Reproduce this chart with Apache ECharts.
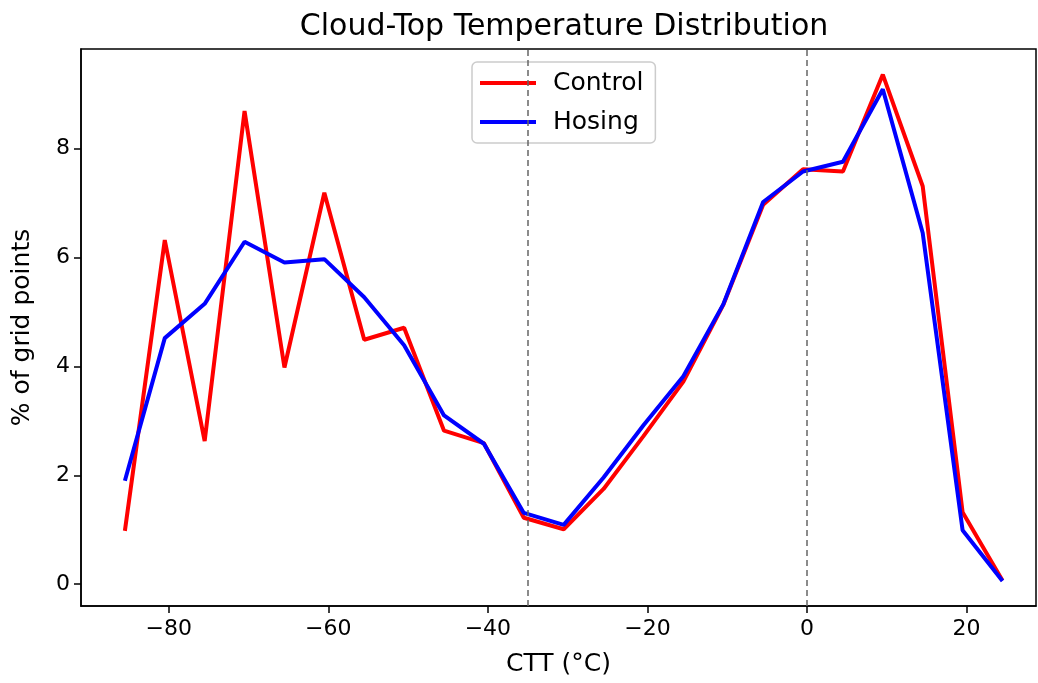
<!DOCTYPE html>
<html>
<head>
<meta charset="utf-8">
<script src="https://cdn.jsdelivr.net/npm/echarts@6/dist/echarts.min.js"></script>
<style>
  html, body { margin: 0; padding: 0; background: #fff; }
  #chart { width: 1038px; height: 683px; }
</style>
</head>
<body>
<div id="chart"></div>
<script>
// bin centres (°C)
const ctt = [-85.5, -80.5, -75.5, -70.5, -65.5, -60.5, -55.5, -50.5, -45.5, -40.5, -35.5, -30.5,
             -25.5, -20.5, -15.5, -10.5, -5.5, -0.5, 4.5, 9.5, 14.5, 19.5, 24.5];
const control = [0.98, 6.32, 2.63, 8.69, 3.98, 7.19, 4.49, 4.71, 2.82, 2.59, 1.22, 1.01,
                 1.75, 2.72, 3.72, 5.13, 6.97, 7.62, 7.58, 9.36, 7.31, 1.32, 0.07];
const hosing = [1.9, 4.52, 5.15, 6.29, 5.91, 5.97, 5.27, 4.39, 3.10, 2.58, 1.31, 1.09,
                1.96, 2.92, 3.82, 5.14, 7.02, 7.58, 7.76, 9.09, 6.45, 0.99, 0.06];
const vlines = [-35, 0];
const xTicks = [-80, -60, -40, -20, 0, 20];
const yTicks = [0, 2, 4, 6, 8];

const font = 'DejaVu Sans';
const chart = echarts.init(document.getElementById('chart'));

const toPairs = ys => ctt.map((x, i) => [x, ys[i]]);

const option = {
  animation: false,
  textStyle: { fontFamily: font },
  title: {
    text: 'Cloud-Top Temperature Distribution',
    left: 559,
    top: 7,
    textAlign: 'center',
    textStyle: { fontFamily: font, fontSize: 30, fontWeight: 'normal', color: '#000' }
  },
  legend: {
    data: ['Control', 'Hosing'],
    orient: 'vertical',
    left: 472,
    top: 62,
    padding: [8, 12, 8, 8],
    icon: 'rect',
    itemWidth: 56,
    itemHeight: 4,
    itemGap: 13,
    borderColor: '#cccccc',
    borderWidth: 1.5,
    borderRadius: 5,
    backgroundColor: 'rgba(255,255,255,0.8)',
    textStyle: { fontFamily: font, fontSize: 25, color: '#000', padding: [0, 0, 0, 12], lineHeight: 26 }
  },
  grid: {
    left: 81, right: 2, top: 49, bottom: 77,
    show: true, borderColor: '#000', borderWidth: 1.5, backgroundColor: 'transparent'
  },
  xAxis: {
    type: 'value',
    min: -91,
    max: 28.7,
    name: 'CTT (°C)',
    nameLocation: 'middle',
    nameGap: 46,
    nameTextStyle: { fontFamily: font, fontSize: 25, color: '#000' },
    axisLine: { show: true, onZero: false, lineStyle: { color: '#000', width: 1.5 } },
    axisTick: { show: true, inside: false, length: 7, lineStyle: { color: '#000', width: 1.5 }, customValues: xTicks },
    axisLabel: { fontFamily: font, fontSize: 22, color: '#000', margin: 12, customValues: xTicks,
                 formatter: v => (v < 0 ? '\u2212' + Math.abs(v) : String(v)) },
    splitLine: { show: false }
  },
  yAxis: {
    type: 'value',
    min: -0.4,
    max: 9.83,
    name: '% of grid points',
    nameLocation: 'middle',
    nameGap: 46,
    nameTextStyle: { fontFamily: font, fontSize: 25, color: '#000' },
    axisLine: { show: true, onZero: false, lineStyle: { color: '#000', width: 1.5 } },
    axisTick: { show: true, inside: false, length: 7, lineStyle: { color: '#000', width: 1.5 }, customValues: yTicks },
    axisLabel: { fontFamily: font, fontSize: 22, color: '#000', margin: 11, customValues: yTicks },
    splitLine: { show: false }
  },
  series: [
    {
      name: 'Control',
      type: 'line',
      data: toPairs(control),
      symbol: 'none',
      lineStyle: { color: '#ff0000', width: 4 },
      itemStyle: { color: '#ff0000' },
      z: 3,
      markLine: {
        silent: true,
        symbol: 'none',
        label: { show: false },
        lineStyle: { color: '#666666', type: [6, 4], width: 1.5 },
        data: vlines.map(v => ({ xAxis: v }))
      }
    },
    {
      name: 'Hosing',
      type: 'line',
      data: toPairs(hosing),
      symbol: 'none',
      lineStyle: { color: '#0000ff', width: 4 },
      itemStyle: { color: '#0000ff' },
      z: 4
    }
  ]
};

chart.setOption(option);
</script>
</body>
</html>
